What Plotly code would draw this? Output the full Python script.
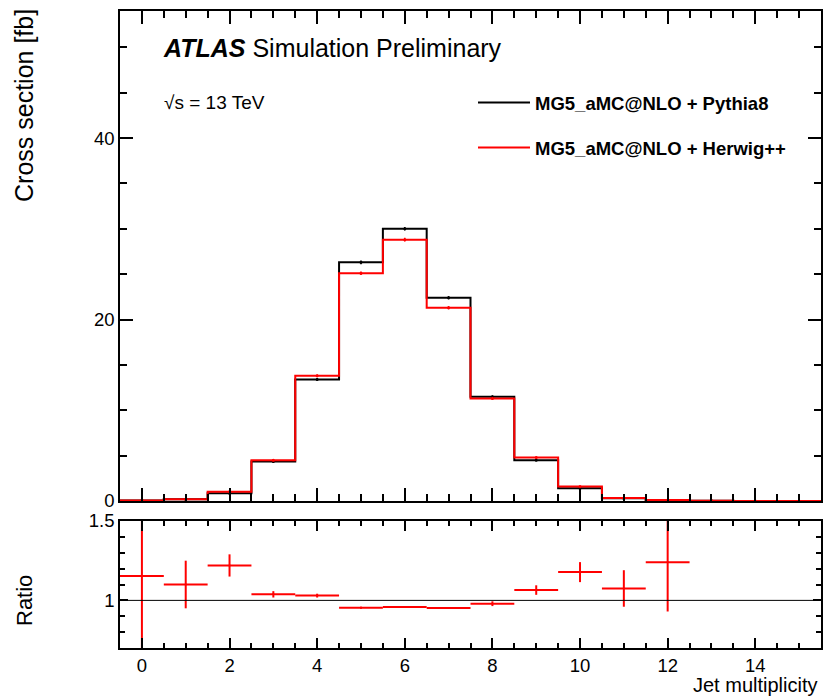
import plotly.graph_objects as go

# ---------------- data ----------------
jet_mult = list(range(16))
pythia8 = [0.05, 0.18, 0.85, 4.35, 13.4, 26.3, 30.0, 22.4, 11.5, 4.5, 1.4, 0.30, 0.08, 0.02, 0.0, 0.0]
herwig = [0.06, 0.20, 1.03, 4.50, 13.8, 25.1, 28.8, 21.3, 11.3, 4.8, 1.6, 0.32, 0.10, 0.02, 0.0, 0.0]
pythia8_err = [0.02, 0.03, 0.05, 0.10, 0.15, 0.20, 0.20, 0.18, 0.13, 0.08, 0.05, 0.02, 0.02, 0.0, 0.0, 0.0]
herwig_err = [0.02, 0.03, 0.05, 0.10, 0.15, 0.20, 0.20, 0.18, 0.13, 0.08, 0.05, 0.02, 0.02, 0.0, 0.0, 0.0]

ratio_bins = list(range(13))
ratio = [1.153, 1.10, 1.22, 1.038, 1.03, 0.954, 0.958, 0.952, 0.979, 1.065, 1.178, 1.075, 1.24]
ratio_err = [0.70, 0.15, 0.07, 0.02, 0.012, 0.006, 0.006, 0.006, 0.015, 0.03, 0.063, 0.115, 0.31]

series_names = ["MG5_aMC@NLO + Pythia8", "MG5_aMC@NLO + Herwig++"]
x_title = "Jet multiplicity"
y_title = "Cross section [fb]"
ratio_title = "Ratio"

# ---------------- figure ----------------
W, H = 824, 697
ML, MR, MT, MB = 120, 3, 11, 49
PW, PH = W - ML - MR, H - MT - MB
FONT = "Liberation Sans"


def px_x(p):
    return (p - ML) / PW


def px_y(p):
    return (H - MB - p) / PH


def step(vals):
    xs = [c - 0.5 for c in jet_mult] + [jet_mult[-1] + 0.5]
    ys = list(vals) + [vals[-1]]
    return xs, ys


fig = go.Figure()
for vals, errs, col, name in [(pythia8, pythia8_err, "black", series_names[0]),
                              (herwig, herwig_err, "#ff0000", series_names[1])]:
    sx, sy = step(vals)
    fig.add_trace(go.Scatter(x=sx, y=sy, mode="lines", line=dict(color=col, width=2, shape="hv"),
                             name="<b>" + name + "</b>", legendgroup=name,
                             xaxis="x", yaxis="y"))
    fig.add_trace(go.Scatter(x=jet_mult, y=vals, mode="markers", marker=dict(color=col, size=3),
                             error_y=dict(type="data", array=errs, visible=True, color=col,
                                          thickness=1.5, width=0),
                             showlegend=False, xaxis="x", yaxis="y"))

fig.add_trace(go.Scatter(x=ratio_bins, y=ratio, mode="markers", marker=dict(color="#ff0000", size=2),
                         error_x=dict(type="data", array=[0.5] * len(ratio_bins), visible=True,
                                      color="#ff0000", thickness=2, width=0),
                         error_y=dict(type="data", array=ratio_err, visible=True,
                                      color="#ff0000", thickness=2, width=0),
                         showlegend=False, xaxis="x2", yaxis="y2"))

top_lo = px_y(501)
rat_hi = px_y(521)

axis_common = dict(showline=True, linecolor="black", linewidth=1.5, mirror="ticks",
                   ticks="inside", tickcolor="black", tickwidth=1.5, showgrid=False,
                   zeroline=False, tickfont=dict(family=FONT, size=18.5, color="black"))

fig.update_layout(
    width=W, height=H,
    margin=dict(l=ML, r=MR, t=MT, b=MB, autoexpand=False),
    paper_bgcolor="white", plot_bgcolor="white",
    font=dict(family=FONT, color="black"),
    xaxis=dict(domain=[0, 1], range=[-0.5, 15.5], anchor="y", showticklabels=False,
               tick0=0, dtick=2, ticklen=13,
               minor=dict(tick0=0, dtick=0.5, ticks="inside", ticklen=7, tickcolor="black", tickwidth=1.5),
               **axis_common),
    yaxis=dict(domain=[top_lo, 1], range=[0, 54], anchor="x", tick0=0, dtick=20, ticklen=13,
               minor=dict(tick0=0, dtick=5, ticks="inside", ticklen=7, tickcolor="black", tickwidth=1.5),
               **axis_common),
    xaxis2=dict(domain=[0, 1], range=[-0.5, 15.5], anchor="y2", matches="x",
                tick0=0, dtick=2, ticklen=10,
                minor=dict(tick0=0, dtick=0.5, ticks="inside", ticklen=5, tickcolor="black", tickwidth=1.5),
                **axis_common),
    yaxis2=dict(domain=[0, rat_hi], range=[0.7, 1.5], anchor="x2", tick0=0, dtick=0.5, ticklen=8,
                minor=dict(tick0=0, dtick=0.1, ticks="inside", ticklen=5, tickcolor="black", tickwidth=1.5),
                **axis_common),
    showlegend=True,
    legend=dict(x=px_x(473), y=px_y(84), xanchor="left", yanchor="top",
                bgcolor="rgba(0,0,0,0)", borderwidth=0,
                font=dict(family=FONT, size=18.5, color="black"),
                itemwidth=52, tracegroupgap=18),
)

fig.add_shape(type="line", xref="x2 domain", yref="y2", x0=0, x1=1, y0=1, y1=1,
              line=dict(color="black", width=1))

ann = [
    dict(text="<b><i>ATLAS</i></b> Simulation Preliminary", x=px_x(161), y=px_y(48),
         xanchor="left", yanchor="middle", font=dict(size=25)),
    dict(text="\u221As = 13 TeV", x=px_x(162), y=px_y(103), xanchor="left", yanchor="middle",
         font=dict(size=19)),
    dict(text=y_title, x=px_x(24), y=px_y(106), xanchor="center", yanchor="middle",
         textangle=-90, font=dict(size=25)),
    dict(text=ratio_title, x=px_x(24), y=px_y(601), xanchor="center", yanchor="middle",
         textangle=-90, font=dict(size=22)),
    dict(text=x_title, x=px_x(819), y=px_y(685), xanchor="right", yanchor="middle",
         font=dict(size=20)),
]
for a in ann:
    a.update(xref="paper", yref="paper", showarrow=False)
    a["font"].update(family=FONT, color="black")
    fig.add_annotation(**a)

fig.write_html("out.html", config={"displayModeBar": False},
               post_script="document.body.style.margin='0px';document.body.style.overflow='hidden';")
